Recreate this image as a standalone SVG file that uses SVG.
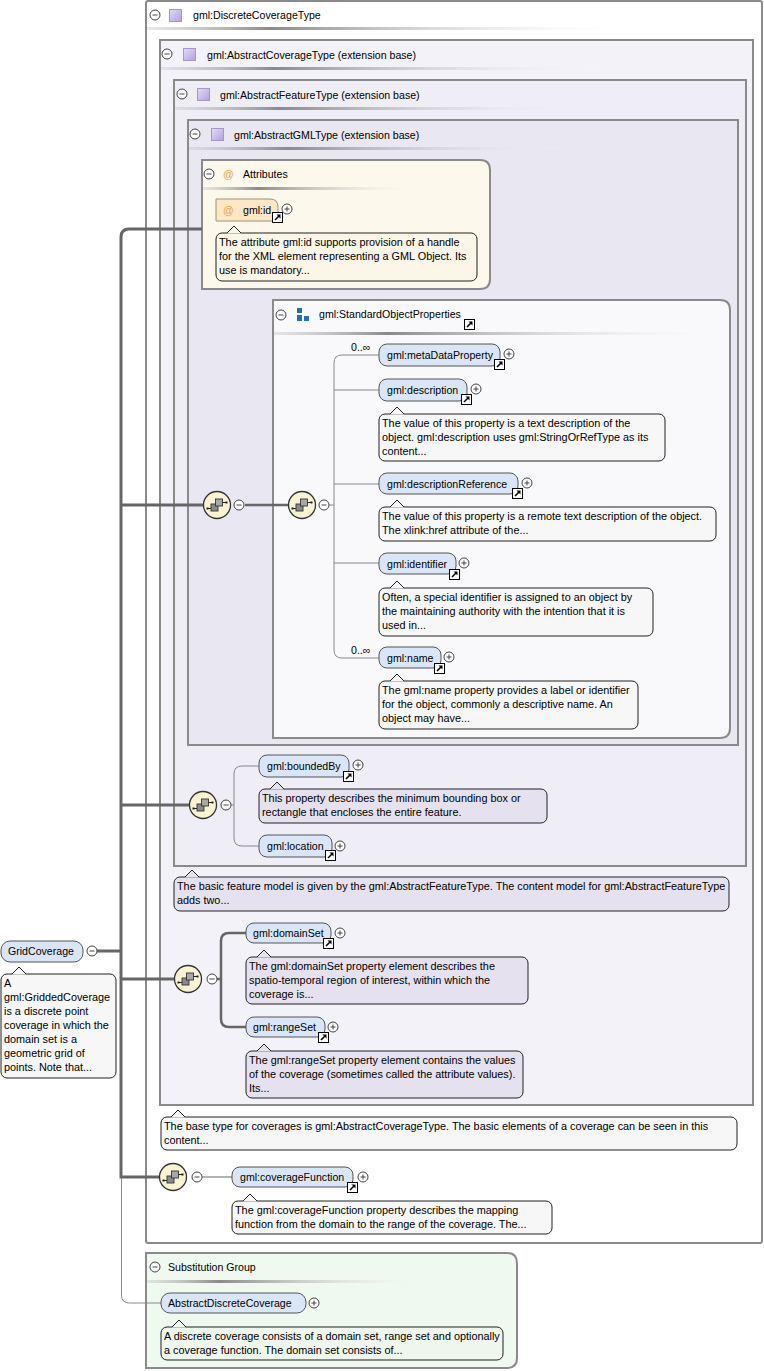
<svg xmlns="http://www.w3.org/2000/svg" width="764" height="1371" viewBox="0 0 764 1371">
<style>
text{font-family:"Liberation Sans",Arial,sans-serif;font-size:10.6px;fill:#000}
text.d{font-size:10.85px}
.box{stroke:#8a8a8a;stroke-width:2}
.el{fill:#dae6f7;stroke:#555;stroke-width:1}
.doc{stroke:#222;stroke-width:1}
.nl{fill:none;stroke:#222;stroke-width:1}
.dl{fill:#e5e1ee}
.dw{fill:#f7f7f8}
.dc{fill:#fbf6e8}
.dg{fill:#eef6ee}
.thick{fill:none;stroke:#666;stroke-width:3}
.mid{fill:none;stroke:#666;stroke-width:2.5}
.thin{fill:none;stroke:#888;stroke-width:1}
.at{fill:#e8a33a}
.sep{fill:url(#sep)}
</style>
<defs>
<linearGradient id="sep" x1="0" x2="1" y1="0" y2="0">
<stop offset="0" stop-color="#c8c8c8" stop-opacity="0.4"/>
<stop offset="0.25" stop-color="#8a8a8a"/>
<stop offset="1" stop-color="#ffffff" stop-opacity="0"/>
</linearGradient>
<linearGradient id="tg" x1="0" y1="0" x2="1" y2="1">
<stop offset="0" stop-color="#e4dcf6"/>
<stop offset="1" stop-color="#b29fe0"/>
</linearGradient>
<g id="seq">
<circle r="13.5" fill="#f8f3d2" stroke="#333" stroke-width="1.3"/>
<path d="M-9,3.5 H-5 M5,-2.5 H9" stroke="#222" stroke-width="1.2"/>
<rect x="-10.5" y="2.5" width="2" height="2" fill="#222"/>
<rect x="8.5" y="-3.5" width="2" height="2" fill="#222"/>
<rect x="-6" y="-1" width="7" height="7" fill="#8a8a8a" stroke="#333" stroke-width="0.9"/>
<rect x="-1.5" y="-6" width="7" height="7" fill="#a8a8a8" stroke="#333" stroke-width="0.9"/>
</g>
<g id="minus"><circle r="5" fill="#fff" stroke="#444"/><path d="M-2.5,0H2.5" stroke="#444"/></g>
<g id="plus"><circle r="5" fill="#fff" stroke="#444"/><path d="M-2.5,0H2.5M0,-2.5V2.5" stroke="#444"/></g>
<g id="lnk"><rect x="0.5" y="0.5" width="10" height="10" fill="#fff" stroke="#000"/><path d="M3,8 L7,4" stroke="#000" stroke-width="1.6"/><path d="M4.5,2.5 H8.5 V6.5 Z" fill="#000"/></g>
<g id="ticon"><rect x="0.5" y="0.5" width="12" height="12" fill="url(#tg)" stroke="#a596cc"/></g>
</defs>

<!-- containers -->
<g id="discreteCoverageType">
<rect class="box" x="146" y="1" width="616" height="1242" rx="2" fill="#ffffff"/>
<rect class="sep" x="147" y="27" width="493" height="3"/>
<use href="#minus" x="155" y="15"/><use href="#ticon" x="169" y="9"/>
<text x="193" y="19">gml:DiscreteCoverageType</text>
</g>
<g id="abstractCoverageType">
<rect class="box" x="160" y="40" width="593" height="1065" fill="#f4f2f9"/>
<rect class="sep" x="161" y="67" width="450" height="3"/>
<use href="#minus" x="167" y="54"/><use href="#ticon" x="183" y="48"/>
<text x="207" y="59">gml:AbstractCoverageType (extension base)</text>
</g>
<g id="abstractFeatureType">
<rect class="box" x="174" y="80" width="572" height="786" fill="#efedf6"/>
<rect class="sep" x="175" y="107" width="420" height="3"/>
<use href="#minus" x="182" y="94"/><use href="#ticon" x="197" y="88"/>
<text x="220" y="99">gml:AbstractFeatureType (extension base)</text>
</g>
<g id="abstractGMLType">
<rect class="box" x="188" y="120" width="550" height="625" fill="#e9e7f2"/>
<rect class="sep" x="189" y="147" width="390" height="3"/>
<use href="#minus" x="195" y="134"/><use href="#ticon" x="211" y="128"/>
<text x="234" y="139">gml:AbstractGMLType (extension base)</text>
</g>
<g id="attributes">
<path class="box" d="M202,160 H480 Q490,160 490,170 V279 Q490,289 480,289 H202 Z" fill="#fdf8ec"/>
<rect class="sep" x="203" y="187" width="220" height="3"/>
<use href="#minus" x="209" y="174"/>
<text class="at" x="223" y="178">@</text>
<text x="243" y="178">Attributes</text>
</g>
<g id="standardObjectProperties">
<path class="box" d="M273,300 H720 Q730,300 730,310 V728 Q730,738 720,738 H273 Z" fill="#f9f9fc"/>
<rect class="sep" x="274" y="332" width="456" height="3"/>
<use href="#minus" x="281" y="315"/>
<rect x="297" y="308" width="5" height="5" fill="#2c6db5"/>
<rect x="297" y="315" width="5" height="6" fill="#2c6db5"/>
<rect x="304" y="316" width="5" height="5" fill="#2c6db5"/>
<text x="319" y="318">gml:StandardObjectProperties</text>
<use href="#lnk" x="464" y="319"/>
</g>
<g id="substitutionGroup">
<path class="box" d="M146,1253 H507 Q517,1253 517,1263 V1358 Q517,1368 507,1368 H146 Z" fill="#f0f9ef"/>
<rect class="sep" x="147" y="1280" width="290" height="3"/>
<use href="#minus" x="155" y="1267"/>
<text x="168" y="1271">Substitution Group</text>
</g>

<!-- connectors -->
<g id="connectors">
<path class="thin" d="M121.5,951 V1295 Q121.5,1303 129.5,1303 H161"/>
<path class="thick" d="M202,229 H129 Q121,229 121,237 V1177 H159"/>
<path class="thick" d="M121,505 H203 M121,805 H189 M121,979 H174 M97,951 H121"/>
<path class="mid" d="M245,505 H288"/>
<path class="thin" d="M329,505 H334 M379,355 H342 Q334,355 334,363 V650 Q334,658 342,658 H379 M334,390 H379 M334,484 H379 M334,563 H379"/>
<path class="thin" stroke="#999" d="M231,805 H234 M259,766 H242 Q234,766 234,774 V838 Q234,846 242,846 H259"/>
<path class="mid" d="M217,979 H221 M246,933 H229 Q221,933 221,941 V1019 Q221,1027 229,1027 H246"/>
<path fill="none" stroke="#666" stroke-width="1" d="M202,1177 H232"/>
<text x="351" y="351" font-size="10">0..∞</text>
<text x="351" y="654" font-size="10">0..∞</text>
</g>

<!-- sequences -->
<g id="seq1"><use href="#seq" x="217" y="505"/><use href="#minus" x="239" y="505"/></g>
<g id="seq2"><use href="#seq" x="302" y="505"/><use href="#minus" x="324" y="505"/></g>
<g id="seq3"><use href="#seq" x="203" y="805"/><use href="#minus" x="226" y="805"/></g>
<g id="seq4"><use href="#seq" x="188" y="979"/><use href="#minus" x="212" y="979"/></g>
<g id="seq5"><use href="#seq" x="173" y="1177"/><use href="#minus" x="197" y="1177"/></g>

<!-- attribute gml:id -->
<g id="gml-id">
<path d="M216,199 H270 Q278,199 278,207 V221 H216 Z" fill="#fde7c6" stroke="#a09070"/>
<text class="at" x="223" y="214">@</text>
<text x="243" y="214">gml:id</text>
<use href="#lnk" x="272" y="212"/><use href="#plus" x="287" y="209"/>
<rect class="doc dc" x="216" y="233" width="261" height="48" rx="6"/>
<polygon class="dc" points="227,233.6 234,226 241,233.6"/><polyline class="nl" points="227,233 234,226 241,233"/>
<text class="d" x="219" y="246">The attribute gml:id supports provision of a handle</text>
<text class="d" x="219" y="260">for the XML element representing a GML Object. Its</text>
<text class="d" x="219" y="274">use is mandatory...</text>
</g>

<!-- SOP elements -->
<g id="metaDataProperty">
<rect class="el" x="379" y="344" width="121" height="22" rx="8"/>
<text x="387" y="359">gml:metaDataProperty</text>
<use href="#lnk" x="494" y="359"/><use href="#plus" x="509" y="354"/>
</g>
<g id="description">
<rect class="el" x="379" y="379" width="88" height="22" rx="8"/>
<text x="387" y="394">gml:description</text>
<use href="#lnk" x="461" y="394"/><use href="#plus" x="476" y="389"/>
<rect class="doc dw" x="379" y="414" width="286" height="47" rx="6"/>
<polygon class="dw" points="390,414.6 397,407 404,414.6"/><polyline class="nl" points="390,414 397,407 404,414"/>
<text class="d" x="382" y="427">The value of this property is a text description of the</text>
<text class="d" x="382" y="441">object. gml:description uses gml:StringOrRefType as its</text>
<text class="d" x="382" y="455">content...</text>
</g>
<g id="descriptionReference">
<rect class="el" x="379" y="473" width="139" height="21" rx="8"/>
<text x="387" y="488">gml:descriptionReference</text>
<use href="#lnk" x="512" y="488"/><use href="#plus" x="527" y="483"/>
<rect class="doc dw" x="379" y="507" width="337" height="34" rx="6"/>
<polygon class="dw" points="390,507.6 397,500 404,507.6"/><polyline class="nl" points="390,507 397,500 404,507"/>
<text class="d" x="382" y="520">The value of this property is a remote text description of the object.</text>
<text class="d" x="382" y="534">The xlink:href attribute of the...</text>
</g>
<g id="identifier">
<rect class="el" x="379" y="553" width="77" height="21" rx="8"/>
<text x="387" y="568">gml:identifier</text>
<use href="#lnk" x="449" y="569"/><use href="#plus" x="464" y="563"/>
<rect class="doc dw" x="379" y="588" width="274" height="48" rx="6"/>
<polygon class="dw" points="390,588.6 397,581 404,588.6"/><polyline class="nl" points="390,588 397,581 404,588"/>
<text class="d" x="382" y="601">Often, a special identifier is assigned to an object by</text>
<text class="d" x="382" y="615">the maintaining authority with the intention that it is</text>
<text class="d" x="382" y="629">used in...</text>
</g>
<g id="name">
<rect class="el" x="379" y="647" width="62" height="21" rx="8"/>
<text x="387" y="662">gml:name</text>
<use href="#lnk" x="434" y="663"/><use href="#plus" x="449" y="657"/>
<rect class="doc dw" x="379" y="681" width="259" height="48" rx="6"/>
<polygon class="dw" points="390,681.6 397,674 404,681.6"/><polyline class="nl" points="390,681 397,674 404,681"/>
<text class="d" x="382" y="694">The gml:name property provides a label or identifier</text>
<text class="d" x="382" y="708">for the object, commonly a descriptive name. An</text>
<text class="d" x="382" y="722">object may have...</text>
</g>

<!-- feature elements -->
<g id="boundedBy">
<rect class="el" x="259" y="755" width="90" height="22" rx="8"/>
<text x="267" y="770">gml:boundedBy</text>
<use href="#lnk" x="343" y="771"/><use href="#plus" x="358" y="765"/>
<rect class="doc dl" x="259" y="789" width="288" height="34" rx="6"/>
<polygon class="dl" points="270,789.6 277,782 284,789.6"/><polyline class="nl" points="270,789 277,782 284,789"/>
<text class="d" x="262" y="802">This property describes the minimum bounding box or</text>
<text class="d" x="262" y="816">rectangle that encloses the entire feature.</text>
</g>
<g id="location">
<rect class="el" x="259" y="835" width="73" height="22" rx="8"/>
<text x="267" y="850">gml:location</text>
<use href="#lnk" x="325" y="850"/><use href="#plus" x="340" y="846"/>
</g>
<g id="featureDoc">
<rect class="doc dl" x="174" y="877" width="555" height="34" rx="6"/>
<polygon class="dl" points="185,877.6 192,870 199,877.6"/><polyline class="nl" points="185,877 192,870 199,877"/>
<text class="d" x="177" y="890">The basic feature model is given by the gml:AbstractFeatureType. The content model for gml:AbstractFeatureType</text>
<text class="d" x="177" y="904">adds two...</text>
</g>

<!-- coverage elements -->
<g id="domainSet">
<rect class="el" x="246" y="923" width="85" height="20" rx="8"/>
<text x="253" y="937">gml:domainSet</text>
<use href="#lnk" x="323" y="938"/><use href="#plus" x="340" y="933"/>
<rect class="doc dl" x="246" y="957" width="282" height="47" rx="6"/>
<polygon class="dl" points="257,957.6 264,950 271,957.6"/><polyline class="nl" points="257,957 264,950 271,957"/>
<text class="d" x="249" y="970">The gml:domainSet property element describes the</text>
<text class="d" x="249" y="984">spatio-temporal region of interest, within which the</text>
<text class="d" x="249" y="998">coverage is...</text>
</g>
<g id="rangeSet">
<rect class="el" x="246" y="1017" width="79" height="20" rx="8"/>
<text x="253" y="1031">gml:rangeSet</text>
<use href="#lnk" x="318" y="1032"/><use href="#plus" x="333" y="1027"/>
<rect class="doc dl" x="246" y="1051" width="277" height="47" rx="6"/>
<polygon class="dl" points="257,1051.6 264,1044 271,1051.6"/><polyline class="nl" points="257,1051 264,1044 271,1051"/>
<text class="d" x="249" y="1064">The gml:rangeSet property element contains the values</text>
<text class="d" x="249" y="1078">of the coverage (sometimes called the attribute values).</text>
<text class="d" x="249" y="1092">Its...</text>
</g>
<g id="coverageDoc">
<rect class="doc dw" x="161" y="1117" width="576" height="33" rx="6"/>
<polygon class="dw" points="171,1117.6 178,1110 185,1117.6"/><polyline class="nl" points="171,1117 178,1110 185,1117"/>
<text class="d" x="164" y="1130">The base type for coverages is gml:AbstractCoverageType. The basic elements of a coverage can be seen in this</text>
<text class="d" x="164" y="1144">content...</text>
</g>
<g id="coverageFunction">
<rect class="el" x="232" y="1167" width="121" height="20" rx="8"/>
<text x="240" y="1181">gml:coverageFunction</text>
<use href="#lnk" x="347" y="1182"/><use href="#plus" x="363" y="1177"/>
<rect class="doc dw" x="232" y="1201" width="320" height="33" rx="6"/>
<polygon class="dw" points="243,1201.6 250,1194 257,1201.6"/><polyline class="nl" points="243,1201 250,1194 257,1201"/>
<text class="d" x="235" y="1214">The gml:coverageFunction property describes the mapping</text>
<text class="d" x="235" y="1228">function from the domain to the range of the coverage. The...</text>
</g>

<!-- substitution -->
<g id="abstractDiscreteCoverage">
<rect class="el" x="161" y="1293" width="145" height="20" rx="9"/>
<text x="168" y="1307">AbstractDiscreteCoverage</text>
<use href="#plus" x="314" y="1303"/>
<rect class="doc dg" x="161" y="1327" width="342" height="33" rx="6"/>
<polygon class="dg" points="172,1327.6 179,1320 186,1327.6"/><polyline class="nl" points="172,1327 179,1320 186,1327"/>
<text class="d" x="164" y="1340">A discrete coverage consists of a domain set, range set and optionally</text>
<text class="d" x="164" y="1354">a coverage function. The domain set consists of...</text>
</g>

<!-- root -->
<g id="gridCoverage">
<rect class="el" x="1" y="941" width="82" height="21" rx="9"/>
<text x="8" y="955">GridCoverage</text>
<use href="#minus" x="92" y="951"/>
<rect class="doc dw" x="1" y="974" width="115" height="104" rx="6"/>
<polygon class="dw" points="12,974.6 19,967 26,974.6"/><polyline class="nl" points="12,974 19,967 26,974"/>
<text class="d" x="4" y="987">A</text>
<text class="d" x="4" y="1001">gml:GriddedCoverage</text>
<text class="d" x="4" y="1015">is a discrete point</text>
<text class="d" x="4" y="1029">coverage in which the</text>
<text class="d" x="4" y="1043">domain set is a</text>
<text class="d" x="4" y="1057">geometric grid of</text>
<text class="d" x="4" y="1071">points. Note that...</text>
</g>
</svg>
